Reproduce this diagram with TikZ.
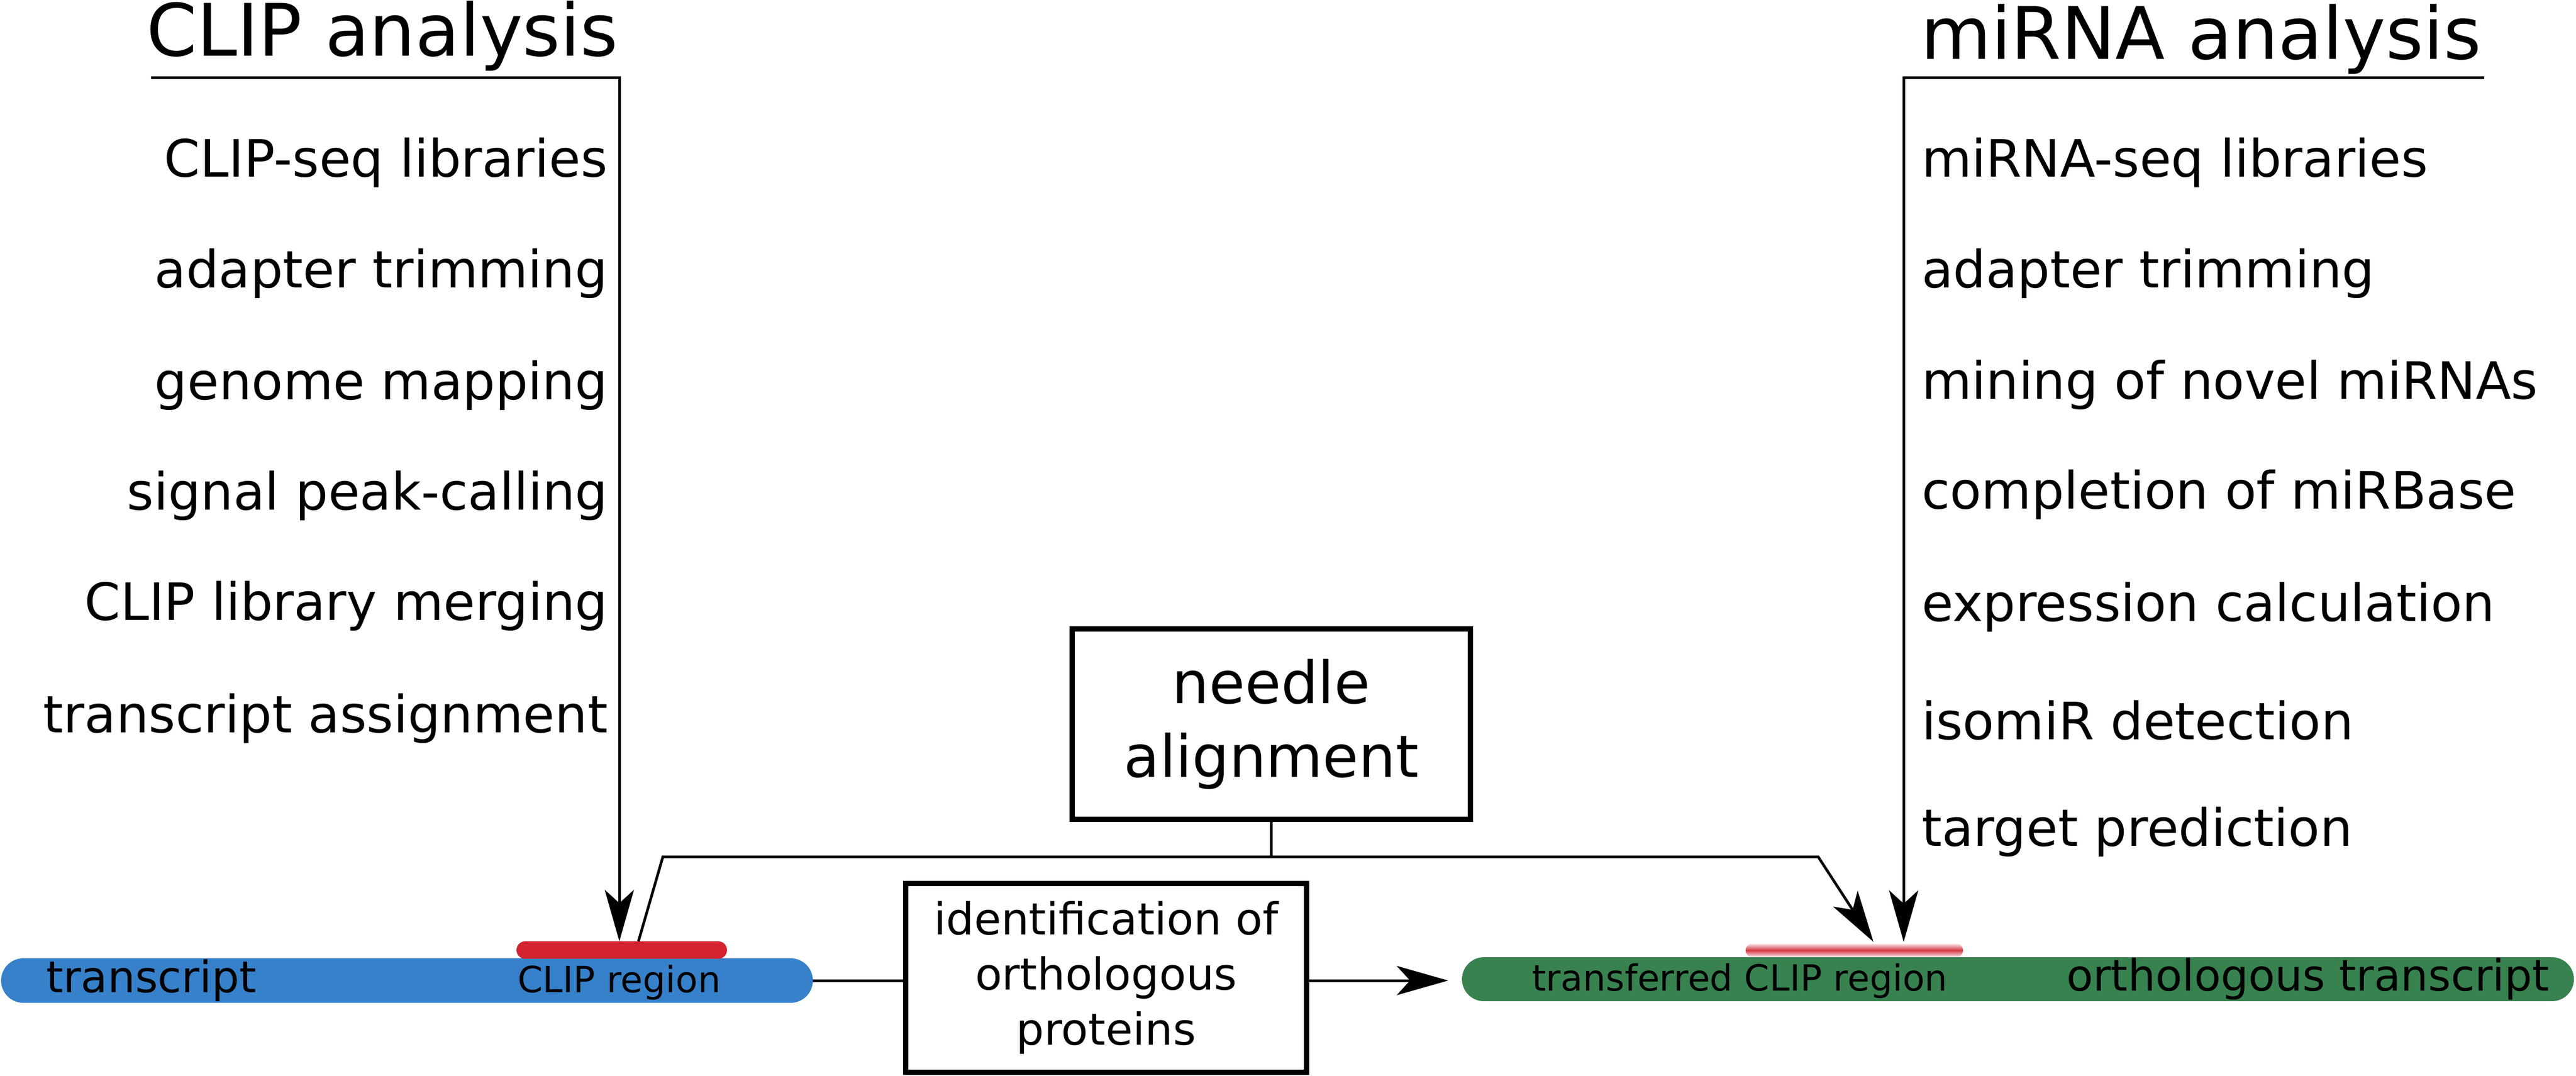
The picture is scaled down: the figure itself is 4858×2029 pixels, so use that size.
\documentclass[tikz,border=0pt]{standalone}
\usepackage{fontspec}
\setmainfont{DejaVu Sans}
\usetikzlibrary{arrows.meta}
\definecolor{myblue}{RGB}{54,129,202}
\definecolor{myred}{RGB}{210,35,47}
\definecolor{mygreen}{RGB}{56,130,80}
\begin{document}
\begin{tikzpicture}[x=0.1pt,y=-0.1pt,
  conn/.style={line width=0.5pt,black},
  tipped/.style={-{Stealth[length=9.7pt,width=5.5pt,inset=2.5pt]}},
  procbox/.style={draw,line width=1pt,inner sep=0pt,outer sep=0pt,align=center},
  listl/.style={anchor=base east,inner sep=0pt,font=\fontsize{9.7}{11.6}\selectfont},
  listr/.style={anchor=base west,inner sep=0pt,font=\fontsize{9.7}{11.6}\selectfont},
  titlel/.style={anchor=base east,inner sep=0pt,font=\fontsize{13.65}{16}\selectfont},
  titler/.style={anchor=base west,inner sep=0pt,font=\fontsize{13.65}{16}\selectfont},
  bar/.style={inner sep=0pt,outer sep=0pt,draw=none},
  bigbar/.style={anchor=base west,inner sep=0pt,font=\fontsize{8.2}{10}\selectfont},
  smallbar/.style={anchor=base,inner sep=0pt,font=\fontsize{6.8}{8}\selectfont}
]
\useasboundingbox (0,0) rectangle (4858,2029);

% bars
\node[bar,fill=myblue,minimum width=153.1pt,minimum height=8.4pt,rounded corners=4.2pt] (transcript) at (767.5,1849) {};
\node[bar,fill=myred,minimum width=39.7pt,minimum height=3.3pt,rounded corners=1.65pt] (clipreg) at (1172.5,1791.5) {};
\node[bar,fill=mygreen,minimum width=209.7pt,minimum height=8.3pt,rounded corners=4.15pt] (orth) at (3805.5,1846.5) {};
\node[bar,minimum width=41pt,minimum height=2.5pt,rounded corners=1.2pt,top color=myred!12,bottom color=myred!12,middle color=myred!90] (tclip) at (3497,1792) {};

% bar labels
\node[bigbar] (ltranscript) at (85,1872) {transcript};
\node[smallbar] (lclip) at (1168,1872) {CLIP region};
\node[smallbar] (ltclip) at (3281,1868) {transferred CLIP region};
\node[bigbar] (lorth) at (3895,1869) {orthologous transcript};

% boxes
\node[procbox,minimum width=75.1pt,minimum height=35.9pt,font=\fontsize{11}{13.9}\selectfont] (needle) at (2397.5,1365.5) {needle\\alignment};
\node[procbox,minimum width=75.6pt,minimum height=35.6pt,font=\fontsize{8.3}{10.4}\selectfont] (ident) at (2086,1844) {identification of\\orthologous\\proteins};

% CLIP analysis
\node[titlel] (cliptitle) at (1168,106) {CLIP analysis};
\node[listl] (c1) at (1148,334) {CLIP-seq libraries};
\node[listl] (c2) at (1148,543) {adapter trimming};
\node[listl] (c3) at (1148,754) {genome mapping};
\node[listl] (c4) at (1148,962) {signal peak-calling};
\node[listl] (c5) at (1148,1170) {CLIP library merging};
\node[listl] (c6) at (1148,1382) {transcript assignment};

% miRNA analysis
\node[titler] (mirtitle) at (3620,112) {miRNA analysis};
\node[listr] (m1) at (3622,334) {miRNA-seq libraries};
\node[listr] (m2) at (3622,543) {adapter trimming};
\node[listr] (m3) at (3622,753) {mining of novel miRNAs};
\node[listr] (m4) at (3622,960) {completion of miRBase};
\node[listr] (m5) at (3622,1172) {expression calculation};
\node[listr] (m6) at (3622,1395) {isomiR detection};
\node[listr] (m7) at (3622,1596) {target prediction};

% coordinates
\coordinate (clipstart) at (285,147);
\coordinate (clipcorner) at (1168,147);
\coordinate (mirstart) at (4685,147);
\coordinate (mircorner) at (3590,147);
\coordinate (mirtip) at (3590,1776);
\coordinate (hl) at (1250,1616);
\coordinate (hr) at (3429,1616);
\coordinate (ltip) at (1204,1775);
\coordinate (rtip) at (3533,1776);

% connectors
\draw[conn,tipped] (clipstart) -- (clipcorner) -- (clipcorner |- clipreg.north);
\draw[conn,tipped] (mirstart) -- (mircorner) -- (mirtip);
\draw[conn] (needle.south) -- (needle.south |- hl);
\draw[conn,tipped] (ltip) -- (hl) -- (hr) -- (rtip);
\draw[conn] (transcript.east) -- (transcript.east -| ident.west);
\draw[conn,tipped] (transcript.east -| ident.east) -- ([xshift=-2.6pt]transcript.east -| orth.west);
\end{tikzpicture}
\end{document}
